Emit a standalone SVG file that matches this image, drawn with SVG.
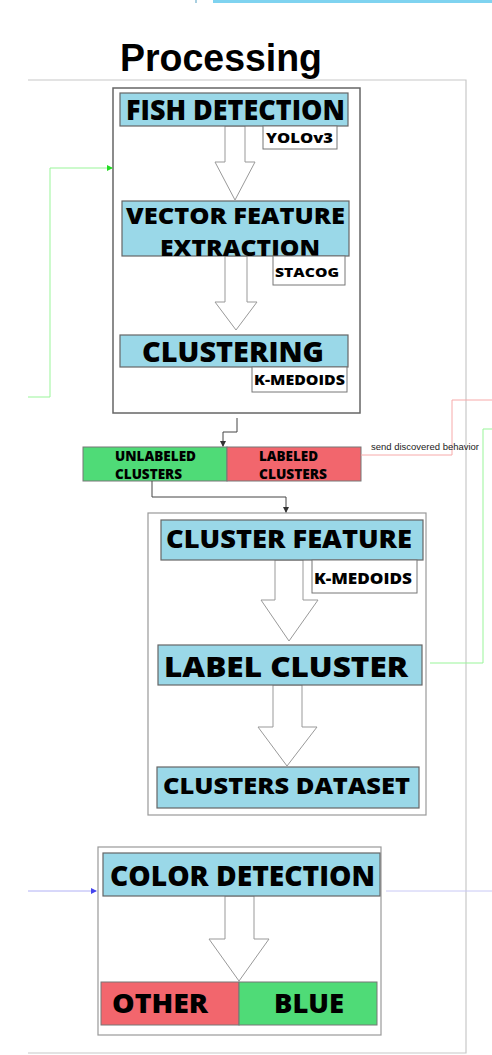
<svg xmlns="http://www.w3.org/2000/svg" width="492" height="1055" viewBox="0 0 492 1055">
<style>
.blk{fill:#9AD8E8;stroke:#666;stroke-width:1.2}
.tag{fill:#fff;stroke:#777;stroke-width:1}
.frame{fill:#fff;stroke:#666;stroke-width:1.5}
.frame2{fill:#fff;stroke:#999;stroke-width:1.2}
.harrow{fill:#fff;stroke:#999;stroke-width:1}
.lbl{font-family:"Open Sans","DejaVu Sans",sans-serif;font-weight:800;fill:#000}
.small{font-family:"Liberation Sans",Arial,sans-serif;font-size:9.5px;fill:#222}
.outer{fill:none;stroke:#c8c8c8;stroke-width:1.2}
</style>
<defs>
<marker id="ag" markerWidth="6" markerHeight="6" refX="5" refY="3" orient="auto" markerUnits="userSpaceOnUse"><path d="M0,0 L6,3 L0,6 z" fill="#22dd22"/></marker>
<marker id="ad" markerWidth="6" markerHeight="6" refX="5" refY="3" orient="auto" markerUnits="userSpaceOnUse"><path d="M0,0 L6,3 L0,6 z" fill="#333"/></marker>
<marker id="ab" markerWidth="6" markerHeight="6" refX="5" refY="3" orient="auto" markerUnits="userSpaceOnUse"><path d="M0,0 L6,3 L0,6 z" fill="#4444ee"/></marker>
</defs>
<rect width="492" height="1055" fill="#fff"/>
<rect x="195" y="0" width="2" height="3" fill="#a9cfe0"/>
<rect x="213" y="0" width="279" height="3" fill="#7fd3f0"/>
<text x="120" y="71" font-family="Liberation Sans,Arial,sans-serif" font-weight="bold" font-size="38" textLength="202" lengthAdjust="spacingAndGlyphs">Processing</text>
<path class="outer" d="M28,80 H466 V1053 H28"/>

<g id="stage1">
<rect class="frame" x="113" y="88" width="247" height="325"/>
<polygon class="harrow" points="225,126 245,126 245,162 255,162 235,200 215,162 225,162"/>
<polygon class="harrow" points="225,256 247,256 247,302 257,302 236,330 215,302 225,302"/>
<g id="fish-detection"><rect class="blk" x="120" y="93" width="228" height="33"/>
<text class="lbl" x="126" y="120" font-size="28" textLength="219" lengthAdjust="spacingAndGlyphs">FISH DETECTION</text></g>
<g id="yolo"><rect class="tag" x="263" y="126" width="74" height="23"/>
<text class="lbl" x="266" y="143" font-size="14" textLength="67" lengthAdjust="spacingAndGlyphs">YOLOv3</text></g>
<g id="vector-feature"><rect class="blk" x="122" y="201" width="227" height="55"/>
<text class="lbl" font-size="23"><tspan x="126" y="224" textLength="219" lengthAdjust="spacingAndGlyphs">VECTOR FEATURE</tspan><tspan x="160" y="255.5" textLength="160" lengthAdjust="spacingAndGlyphs">EXTRACTION</tspan></text></g>
<g id="stacog"><rect class="tag" x="273" y="256" width="72" height="29"/>
<text class="lbl" x="275" y="276.5" font-size="13" textLength="64" lengthAdjust="spacingAndGlyphs">STACOG</text></g>
<g id="clustering"><rect class="blk" x="120" y="335" width="228" height="32"/>
<text class="lbl" x="142" y="362" font-size="29" textLength="182" lengthAdjust="spacingAndGlyphs">CLUSTERING</text></g>
<g id="kmedoids1"><rect class="tag" x="252" y="367" width="95" height="25"/>
<text class="lbl" x="254" y="385" font-size="14.5" textLength="91" lengthAdjust="spacingAndGlyphs">K-MEDOIDS</text></g>
</g>

<g id="clusters-bar">
<rect x="83" y="447" width="144" height="34" fill="#4FDB77" stroke="#777" stroke-width="1"/>
<rect x="227" y="447" width="134" height="34" fill="#F2666D" stroke="#777" stroke-width="1"/>
<text class="lbl" font-size="13.5"><tspan x="115" y="461" textLength="81" lengthAdjust="spacingAndGlyphs">UNLABELED</tspan><tspan x="115" y="479" textLength="67" lengthAdjust="spacingAndGlyphs">CLUSTERS</tspan></text>
<text class="lbl" font-size="13.5"><tspan x="259" y="461" textLength="59" lengthAdjust="spacingAndGlyphs">LABELED</tspan><tspan x="259" y="479" textLength="68" lengthAdjust="spacingAndGlyphs">CLUSTERS</tspan></text>
</g>

<g id="stage2">
<rect class="frame2" x="148" y="513" width="278" height="302"/>
<polygon class="harrow" points="275,560 303,560 303,600 318,600 289,641 261,600 275,600"/>
<polygon class="harrow" points="273,685 302,685 302,727 317,727 287,766 258,727 273,727"/>
<g id="cluster-feature"><rect class="blk" x="161" y="520" width="262" height="40"/>
<text class="lbl" x="166" y="548" font-size="25" textLength="246" lengthAdjust="spacingAndGlyphs">CLUSTER FEATURE</text></g>
<g id="kmedoids2"><rect class="tag" x="312" y="560" width="105" height="33"/>
<text class="lbl" x="314" y="584" font-size="16" textLength="98" lengthAdjust="spacingAndGlyphs">K-MEDOIDS</text></g>
<g id="label-cluster"><rect class="blk" x="158" y="645" width="264" height="40"/>
<text class="lbl" x="164" y="677" font-size="28" textLength="244" lengthAdjust="spacingAndGlyphs">LABEL CLUSTER</text></g>
<g id="clusters-dataset"><rect class="blk" x="157" y="767" width="262" height="41"/>
<text class="lbl" x="163" y="794" font-size="23" textLength="247" lengthAdjust="spacingAndGlyphs">CLUSTERS DATASET</text></g>
</g>

<g id="stage3">
<rect class="frame2" x="98" y="847" width="283" height="188"/>
<polygon class="harrow" points="225,896 254,896 254,939 269,939 239,981 209,939 225,939"/>
<g id="color-detection"><rect class="blk" x="103" y="853" width="277" height="43"/>
<text class="lbl" x="110" y="886" font-size="29" textLength="265" lengthAdjust="spacingAndGlyphs">COLOR DETECTION</text></g>
<g id="other"><rect x="101" y="982" width="138" height="43" fill="#F2666D" stroke="#777" stroke-width="1"/>
<text class="lbl" x="112" y="1013" font-size="27" textLength="96" lengthAdjust="spacingAndGlyphs">OTHER</text></g>
<g id="blue"><rect x="239" y="982" width="138" height="43" fill="#4FDB77" stroke="#777" stroke-width="1"/>
<text class="lbl" x="274" y="1013" font-size="27" textLength="70" lengthAdjust="spacingAndGlyphs">BLUE</text></g>
</g>

<g id="connectors" fill="none">
<path d="M28,397 H50 V168 H112" stroke="#99f599" stroke-width="1" marker-end="url(#ag)"/>
<path d="M237,418 V432 H223 V446" stroke="#444" stroke-width="1" marker-end="url(#ad)"/>
<path d="M152,481 V497 H286 V512" stroke="#444" stroke-width="1" marker-end="url(#ad)"/>
<path d="M361,455 H452 V400 H492" stroke="#f7aaaa" stroke-width="1"/>
<path d="M430,663 H483 V429 H492" stroke="#99f599" stroke-width="1"/>
<path d="M28,891 H96" stroke="#b0b0f5" stroke-width="1" marker-end="url(#ab)"/>
<path d="M386,891 H492" stroke="#c8c8f5" stroke-width="1"/>
<text class="small" x="371" y="450" textLength="108" lengthAdjust="spacingAndGlyphs">send discovered behavior</text>
</g>
</svg>
